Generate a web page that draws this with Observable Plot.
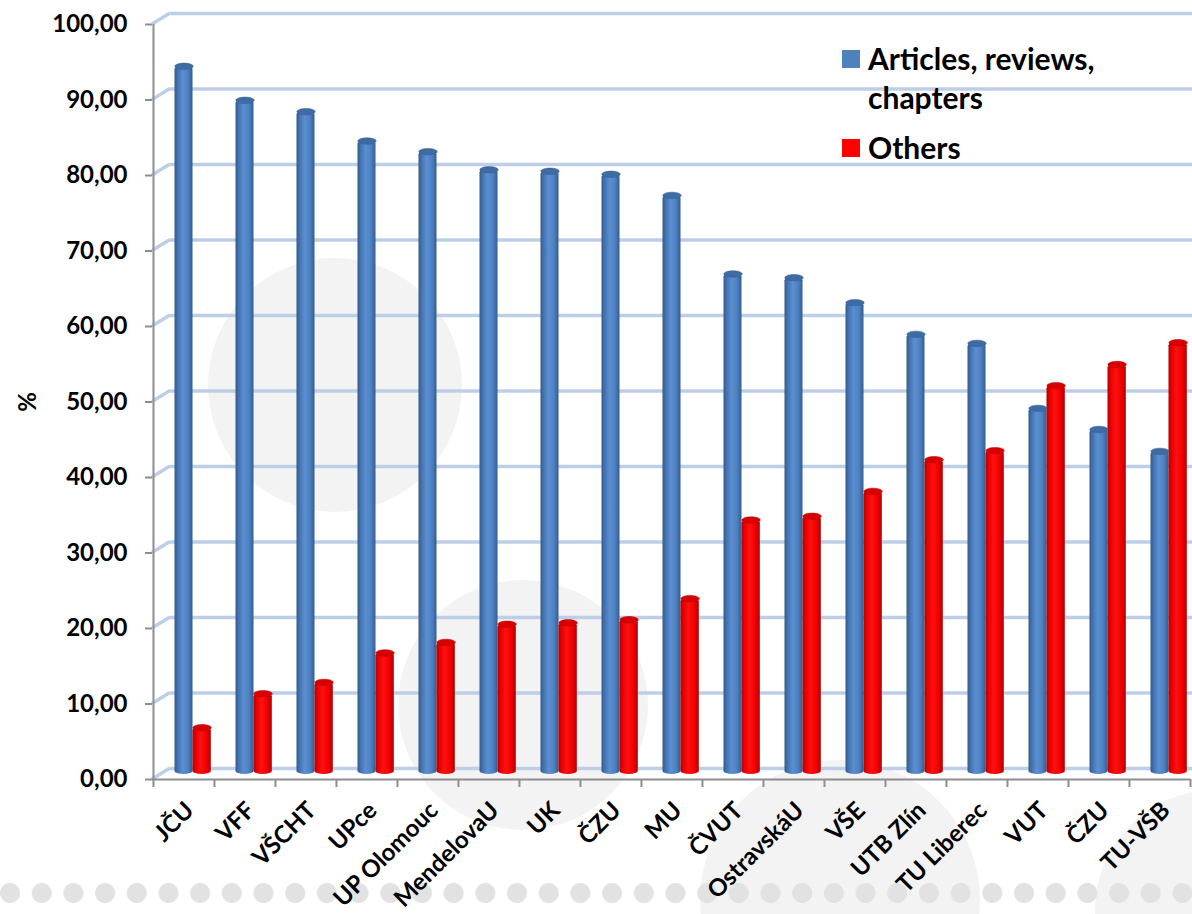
<!DOCTYPE html>
<html>
<head>
<meta charset="utf-8">
<script src="https://cdn.jsdelivr.net/npm/d3@7"></script>
<script src="https://cdn.jsdelivr.net/npm/@observablehq/plot@0.6"></script>
<style>
  html, body { margin: 0; padding: 0; background: #ffffff; }
  #wrap { position: relative; width: 1192px; height: 914px; overflow: hidden; font-family: Lato, "Open Sans", sans-serif; }
  .deco { position: absolute; border-radius: 50%; background: #f3f3f3; }
  #dots { position: absolute; left: 0; top: 882px; width: 1192px; height: 22px;
    background-image: radial-gradient(circle at 11px 11px, #e2e2e2 0, #e2e2e2 9.5px, transparent 10.5px);
    background-size: 31.7px 22px; background-position: -1px 0; background-repeat: repeat-x; }
  #chart { position: absolute; left: 0; top: 0; }
  #legend { position: absolute; left: 842px; top: 39px; font-family: Lato, sans-serif; font-weight: bold; font-size: 30px; color: #000; }
  .li { position: relative; padding-left: 26px; line-height: 39px; }
  .sw { position: absolute; left: 0; top: 11px; width: 18px; height: 18px; }
</style>
</head>
<body>
<div id="wrap">
  <div class="deco" style="left:208px;top:258px;width:254px;height:254px;"></div>
  <div class="deco" style="left:398px;top:580px;width:250px;height:250px;"></div>
  <div class="deco" style="left:700px;top:760px;width:280px;height:280px;"></div>
  <div class="deco" style="left:1095px;top:790px;width:240px;height:240px;"></div>
  <div id="dots"></div>
  <div id="chart"></div>
  <div id="legend"></div>
</div>
<script>
// ---- data ----
const categories = ["JČU","VFF","VŠCHT","UPce","UP Olomouc","MendelovaU","UK","ČZU","MU","ČVUT","OstravskáU","VŠE","UTB Zlín","TU Liberec","VUT","ČZU","TU-VŠB"];
const articles = [93.8, 89.3, 87.8, 83.9, 82.5, 80.1, 79.9, 79.5, 76.7, 66.3, 65.8, 62.5, 58.3, 57.1, 48.5, 45.7, 42.8];
const others   = [6.2, 10.7, 12.2, 16.1, 17.5, 19.9, 20.1, 20.5, 23.3, 33.7, 34.2, 37.5, 41.7, 42.9, 51.5, 54.3, 57.2];
const seriesNames = ["Articles, reviews, chapters", "Others"];
const seriesColors = ["#4f81bd", "#ff0000"];
const yTicks = [0, 10, 20, 30, 40, 50, 60, 70, 80, 90, 100];

const idx = d3.range(categories.length);
const rows = idx.map(i => ({i, articles: articles[i], others: others[i]}));

const W = 1192, H = 914, ML = 152, MR = 2, MT = 24, MB = 135;
const bw = (W - ML - MR) / categories.length;
const fmt = d => d.toFixed(2).replace(".", ",");
const gray = "#8e8e8e";
const gridColor = "#bccfe7";

// elliptical cap symbol for cylinder tops
const capSymbol = {
  draw(ctx) {
    const rx = 9.2, ry = 3.2, k = 0.5523;
    ctx.moveTo(-rx, 0);
    ctx.bezierCurveTo(-rx, -ry * k, -rx * k, -ry, 0, -ry);
    ctx.bezierCurveTo(rx * k, -ry, rx, -ry * k, rx, 0);
    ctx.bezierCurveTo(rx, ry * k, rx * k, ry, 0, ry);
    ctx.bezierCurveTo(-rx * k, ry, -rx, ry * k, -rx, 0);
    ctx.closePath();
  }
};

const depthY = -5;

const plot = Plot.plot({
  width: W, height: H,
  marginLeft: ML, marginRight: MR, marginTop: MT, marginBottom: MB,
  style: {background: "transparent", fontFamily: "Lato, sans-serif", fontWeight: "bold", color: "#000", overflow: "visible"},
  x: {type: "band", domain: idx, padding: 0, axis: null},
  y: {domain: [0, 100], axis: null},
  marks: [
    // back-wall gridlines
    Plot.ruleY(yTicks, {dx: 18, dy: -11, stroke: gridColor, strokeWidth: 3.5}),
    // axis lines
    Plot.ruleY([0], {stroke: gray, strokeWidth: 2}),
    Plot.ruleX([0], {x: d => d, y1: 0, y2: 100, dx: -bw / 2, stroke: gray, strokeWidth: 2}),
    // cylinders
    Plot.barY(rows, {x: "i", y: "articles", fill: "url(#gBlue)", insetLeft: 21.5, insetRight: 21.5, dy: depthY, rx: 9, ry: 3}),
    Plot.barY(rows, {x: "i", y: "others", fill: "url(#gRed)", insetLeft: 39.5, insetRight: 3.2, dy: depthY, rx: 9, ry: 3}),
    Plot.dot(rows, {x: "i", y: "articles", symbol: capSymbol, r: 5, fill: "#3f6ba3", stroke: "#365f93", strokeWidth: 0.5, dy: depthY}),
    Plot.dot(rows, {x: "i", y: "others", symbol: capSymbol, r: 5, fill: "#d60000", stroke: "#c00000", strokeWidth: 0.5, dx: 18.1, dy: depthY}),
    // y axis
    Plot.axisY({ticks: yTicks, tickSize: 7, tickPadding: 18, tickFormat: fmt, fontSize: 24, stroke: gray, strokeWidth: 2,
      label: "%", labelAnchor: "center", labelOffset: 134, labelArrow: false}),
    // x tick marks at category boundaries
    Plot.axisX({ticks: idx, tickSize: 8, tickFormat: () => "", dx: -bw / 2, stroke: gray, strokeWidth: 2, label: null}),
    Plot.axisX({ticks: [idx.length - 1], tickSize: 8, tickFormat: () => "", dx: bw / 2, stroke: gray, strokeWidth: 2, label: null}),
    // x labels
    Plot.axisX({ticks: idx, tickSize: 0, tickPadding: 27, tickRotate: -45, tickFormat: i => categories[i], fontSize: 24, dx: 6, label: null})
  ]
});

// gradients for the cylinders
const svg = d3.select(plot);
const defs = svg.insert("defs", ":first-child");
function grad(id, stops) {
  const g = defs.append("linearGradient").attr("id", id).attr("x1", 0).attr("x2", 1).attr("y1", 0).attr("y2", 0);
  stops.forEach(([o, c]) => g.append("stop").attr("offset", o).attr("stop-color", c));
}
grad("gBlue", [["0%", "#325a8c"], ["15%", "#4270ab"], ["45%", "#5b8fd2"], ["75%", "#4e81c1"], ["100%", "#345c8f"]]);
grad("gRed", [["0%", "#b00000"], ["15%", "#e60000"], ["45%", "#ff1010"], ["75%", "#f20000"], ["100%", "#ae0000"]]);

// diagonal connectors between front axis and back-wall gridlines
const ys = plot.scale("y");
const conn = svg.insert("g", "g").attr("stroke", gridColor).attr("stroke-width", 3.5);
yTicks.forEach(t => {
  const yy = ys.apply(t);
  conn.append("line").attr("x1", ML).attr("y1", yy).attr("x2", ML + 18).attr("y2", yy - 11);
});

document.getElementById("chart").appendChild(plot);

// legend
const leg = document.getElementById("legend");
leg.innerHTML =
  `<div class="li"><span class="sw" style="background:${seriesColors[0]}"></span>Articles, reviews,<br>chapters</div>` +
  `<div class="li" style="margin-top:11px"><span class="sw" style="background:${seriesColors[1]}"></span>${seriesNames[1]}</div>`;
</script>
</body>
</html>
